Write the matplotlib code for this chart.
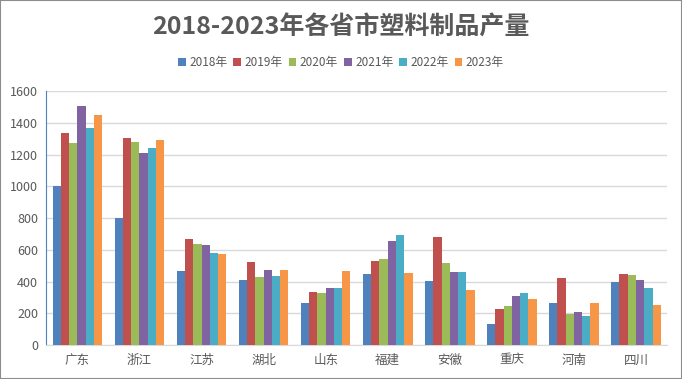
import matplotlib.pyplot as plt
import numpy as np
from matplotlib.patches import Rectangle

plt.rcParams['font.family'] = ['Noto Sans CJK SC', 'DejaVu Sans']

# 各省市塑料制品产量
provinces = ['广东', '浙江', '江苏', '湖北', '山东', '福建', '安徽', '重庆', '河南', '四川']
years = ['2018年', '2019年', '2020年', '2021年', '2022年', '2023年']

y2018 = [1000, 802, 468, 411, 266, 449, 405, 134, 266, 398]
y2019 = [1337, 1306, 669, 524, 335, 530, 681, 229, 424, 449]
y2020 = [1273, 1281, 637, 430, 329, 543, 518, 247, 197, 442]
y2021 = [1508, 1210, 633, 474, 361, 656, 461, 310, 210, 411]
y2022 = [1367, 1242, 581, 436, 361, 694, 461, 329, 185, 361]
y2023 = [1451, 1292, 577, 474, 468, 455, 348, 291, 266, 254]

series = [y2018, y2019, y2020, y2021, y2022, y2023]
colors = ['#4F81BD', '#C0504D', '#9BBB59', '#8064A2', '#4BACC6', '#F79646']

fig = plt.figure(figsize=(6.82, 3.79), dpi=100)
ax = fig.add_axes([0.068, 0.089, 0.910, 0.671])

x = np.arange(len(provinces))
w = 0.8 / len(series)
for i, (vals, c, lab) in enumerate(zip(series, colors, years)):
    ax.bar(x - 0.4 + w * (i + 0.5), vals, width=w, color=c, label=lab, zorder=3)

ax.set_xlim(-0.5, len(provinces) - 0.5)
ax.set_ylim(0, 1600)
ax.set_yticks(range(0, 1601, 200))
ax.set_xticks(x)
ax.set_xticklabels(provinces)
ax.tick_params(length=0, labelsize=9, colors='#595959', pad=6)
ax.yaxis.grid(True, color='#D9D9D9', linewidth=1, zorder=0)

for s in ['top', 'right']:
    ax.spines[s].set_visible(False)
ax.spines['left'].set_color('#4F81BD')
ax.spines['bottom'].set_color('#D9D9D9')

fig.text(0.5, 0.928, '2018-2023年各省市塑料制品产量', ha='center', va='center',
         fontsize=18, fontweight='bold', color='#595959')
fig.legend(loc='center', bbox_to_anchor=(0.5, 0.835), ncol=6, frameon=False,
           fontsize=8.5, handlelength=0.65, handleheight=0.65, handletextpad=0.3,
           columnspacing=0.5, labelcolor='#595959')

fig.patches.append(Rectangle((0, 0), 1, 1, transform=fig.transFigure,
                             fill=False, edgecolor='#8C8C8C', linewidth=1.5))

fig.savefig('out.png', dpi=100)
